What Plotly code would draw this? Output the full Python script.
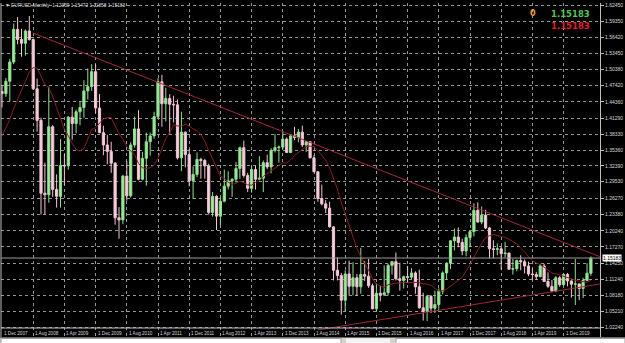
import plotly.graph_objects as go
import pandas as pd

# ---------------- data (EURUSD monthly) ----------------
months = [p.strftime("%b %Y") for p in pd.period_range("2007-12", "2020-07", freq="M")]

opens = [1.4630,
 1.4590,1.4820,1.5180,1.5790,1.5600,1.5530,1.5760,1.5600,1.4680,1.4090,1.2730,1.2700,
 1.3970,1.2800,1.2670,1.3250,1.3240,1.4150,1.4030,1.4250,1.4330,1.4640,1.4720,1.5000,
 1.4320,1.3860,1.3630,1.3510,1.3290,1.2270,1.2230,1.3050,1.2680,1.3630,1.3930,1.2990,
 1.3380,1.3690,1.3800,1.4160,1.4810,1.4400,1.4500,1.4390,1.4380,1.3390,1.3870,1.3450,
 1.2960,1.3080,1.3360,1.3340,1.3240,1.2370,1.2670,1.2300,1.2580,1.2860,1.2960,1.2990,
 1.3190,1.3580,1.3060,1.2820,1.3170,1.2990,1.3010,1.3300,1.3220,1.3530,1.3580,1.3590,
 1.3740,1.3490,1.3800,1.3770,1.3870,1.3630,1.3690,1.3390,1.3130,1.2630,1.2530,1.2450,
 1.2100,1.1290,1.1190,1.0730,1.1220,1.0990,1.1150,1.0980,1.1210,1.1180,1.1000,1.0570,
 1.0860,1.0830,1.0870,1.1380,1.1450,1.1130,1.1100,1.1170,1.1160,1.1240,1.0980,1.0590,
 1.0520,1.0800,1.0580,1.0650,1.0900,1.1240,1.1420,1.1840,1.1910,1.1810,1.1650,1.1900,
 1.2010,1.2410,1.2190,1.2320,1.2080,1.1690,1.1680,1.1690,1.1600,1.1610,1.1310,1.1320,
 1.1470,1.1450,1.1370,1.1220,1.1210,1.1170,1.1370,1.1080,1.0990,1.0900,1.1150,1.1020,
 1.1210,1.1090,1.1030,1.1035,1.0950,1.1100,1.12339]
highs = [1.4750,
 1.4880,1.5240,1.5900,1.6020,1.5800,1.5790,1.6040,1.5620,1.4870,1.4140,1.3300,1.4720,
 1.4000,1.3080,1.3740,1.3460,1.4170,1.4340,1.4290,1.4440,1.4840,1.5060,1.5140,1.5140,
 1.4580,1.3990,1.3820,1.3690,1.3310,1.2470,1.3070,1.3330,1.3680,1.4160,1.4280,1.3500,
 1.3860,1.3860,1.4250,1.4880,1.4940,1.4700,1.4580,1.4550,1.4480,1.4250,1.3880,1.3550,
 1.3230,1.3490,1.3390,1.3370,1.3280,1.2750,1.2690,1.2640,1.3170,1.3140,1.3010,1.3310,
 1.3600,1.3710,1.3110,1.3240,1.3240,1.3420,1.3340,1.3450,1.3570,1.3830,1.3620,1.3890,
 1.3770,1.3820,1.3970,1.3930,1.3990,1.3700,1.3700,1.3440,1.3140,1.2890,1.2600,1.2570,
 1.2110,1.1530,1.1240,1.1290,1.1470,1.1440,1.1220,1.1710,1.1460,1.1500,1.1040,1.1050,
 1.1000,1.1380,1.1410,1.1460,1.1620,1.1430,1.1190,1.1370,1.1330,1.1270,1.1300,1.0870,
 1.0830,1.0830,1.0910,1.0950,1.1270,1.1440,1.1850,1.2070,1.2090,1.1880,1.1960,1.2030,
 1.2540,1.2560,1.2480,1.2420,1.2100,1.1850,1.1790,1.1730,1.1820,1.1620,1.1500,1.1490,
 1.1570,1.1490,1.1450,1.1320,1.1260,1.1410,1.1410,1.1250,1.1110,1.1180,1.1180,1.1240,
 1.1240,1.1100,1.1500,1.1040,1.1150,1.1420,1.15472]
lows = [1.4330,
 1.4530,1.4440,1.5140,1.5510,1.5280,1.5300,1.5580,1.4660,1.3880,1.2330,1.2330,1.2550,
 1.2660,1.2460,1.2460,1.2880,1.3170,1.3730,1.3850,1.4000,1.4140,1.4480,1.4640,1.4220,
 1.3850,1.3440,1.3270,1.3110,1.2140,1.1880,1.2150,1.2590,1.2650,1.3580,1.2970,1.2970,
 1.2870,1.3430,1.3750,1.4120,1.3970,1.4070,1.3840,1.4050,1.3360,1.3140,1.3210,1.2860,
 1.2620,1.3030,1.3000,1.3000,1.2330,1.2290,1.2040,1.2130,1.2560,1.2800,1.2660,1.2930,
 1.3000,1.3020,1.2750,1.2740,1.2800,1.2990,1.2750,1.3180,1.3100,1.3490,1.3300,1.3550,
 1.3480,1.3480,1.3720,1.3680,1.3590,1.3500,1.3380,1.3130,1.2570,1.2500,1.2360,1.2090,
 1.1100,1.1100,1.0460,1.0520,1.0820,1.0820,1.0810,1.0850,1.1090,1.0960,1.0560,1.0520,
 1.0710,1.0810,1.0820,1.1210,1.1100,1.0910,1.0950,1.1050,1.1120,1.0850,1.0570,1.0350,
 1.0340,1.0490,1.0490,1.0570,1.0840,1.1120,1.1310,1.1660,1.1720,1.1570,1.1550,1.1720,
 1.1920,1.2180,1.2150,1.2060,1.1510,1.1510,1.1570,1.1300,1.1530,1.1300,1.1210,1.1270,
 1.1290,1.1230,1.1180,1.1110,1.1110,1.1160,1.1070,1.0960,1.0880,1.0880,1.0980,1.1000,
 1.0990,1.0780,1.0640,1.0730,1.0770,1.1090,1.11858]
closes = [1.4590,
 1.4820,1.5180,1.5790,1.5600,1.5530,1.5760,1.5600,1.4680,1.4090,1.2730,1.2700,1.3970,
 1.2800,1.2670,1.3250,1.3240,1.4150,1.4030,1.4250,1.4330,1.4640,1.4720,1.5000,1.4320,
 1.3860,1.3630,1.3510,1.3290,1.2270,1.2230,1.3050,1.2680,1.3630,1.3930,1.2990,1.3380,
 1.3690,1.3800,1.4160,1.4810,1.4400,1.4500,1.4390,1.4380,1.3390,1.3870,1.3450,1.2960,
 1.3080,1.3360,1.3340,1.3240,1.2370,1.2670,1.2300,1.2580,1.2860,1.2960,1.2990,1.3190,
 1.3580,1.3060,1.2820,1.3170,1.2990,1.3010,1.3300,1.3220,1.3530,1.3580,1.3590,1.3740,
 1.3490,1.3800,1.3770,1.3870,1.3630,1.3690,1.3390,1.3130,1.2630,1.2530,1.2450,1.2100,
 1.1290,1.1190,1.0730,1.1220,1.0990,1.1150,1.0980,1.1210,1.1180,1.1000,1.0570,1.0860,
 1.0830,1.0870,1.1380,1.1450,1.1130,1.1100,1.1170,1.1160,1.1240,1.0980,1.0590,1.0520,
 1.0800,1.0580,1.0650,1.0900,1.1240,1.1420,1.1840,1.1910,1.1810,1.1650,1.1900,1.2010,
 1.2410,1.2190,1.2320,1.2080,1.1690,1.1680,1.1690,1.1600,1.1610,1.1310,1.1320,1.1470,
 1.1450,1.1370,1.1220,1.1210,1.1170,1.1370,1.1080,1.0990,1.0900,1.1150,1.1020,1.1210,
 1.1090,1.1030,1.1035,1.0950,1.1100,1.1234,1.15183]

# moving average line (red) as seen on the chart
ma_line = [1.3797,
 1.3945,1.4108,1.4310,1.4473,1.4646,1.4831,1.4991,1.5077,1.5063,1.4917,1.4756,1.4704,
 1.4536,1.4327,1.4115,1.3918,1.3803,1.3659,1.3547,1.3518,1.3563,1.3729,1.3921,1.3950,
 1.4038,1.4118,1.4140,1.4144,1.3988,1.3838,1.3738,1.3600,1.3516,1.3450,1.3283,1.3204,
 1.3190,1.3204,1.3258,1.3385,1.3563,1.3752,1.3863,1.4006,1.3986,1.3981,1.4019,1.3984,
 1.3933,1.3897,1.3828,1.3698,1.3528,1.3376,1.3202,1.3051,1.3007,1.2931,1.2893,1.2912,
 1.2953,1.2928,1.2885,1.2879,1.2931,1.2959,1.3043,1.3096,1.3152,1.3203,1.3253,1.3299,
 1.3292,1.3353,1.3433,1.3491,1.3544,1.3601,1.3608,1.3601,1.3526,1.3438,1.3343,1.3207,
 1.3023,1.2806,1.2553,1.2332,1.2112,1.1900,1.1699,1.1539,1.1418,1.1291,1.1134,1.1031,
 1.0993,1.0966,1.1020,1.1039,1.1051,1.1047,1.1063,1.1058,1.1063,1.1062,1.1063,1.1035,
 1.1033,1.1008,1.0948,1.0902,1.0911,1.0938,1.0993,1.1056,1.1103,1.1159,1.1268,1.1393,
 1.1527,1.1661,1.1800,1.1898,1.1936,1.1958,1.1946,1.1920,1.1903,1.1874,1.1826,1.1781,
 1.1701,1.1633,1.1541,1.1468,1.1425,1.1398,1.1348,1.1297,1.1238,1.1225,1.1200,1.1178,
 1.1148,1.1120,1.1104,1.1083,1.1077,1.1065,1.1102]

# trend lines (bar index, price)
resist_x = [8.0, 153.3]
resist_y = [1.5720, 1.1543]
support_x = [81.0, 153.3]
support_y = [1.0174, 1.1033]

x_labels = ["1 Dec 2007", "1 Aug 2008", "1 Apr 2009", "1 Dec 2009", "1 Aug 2010",
            "1 Apr 2011", "1 Dec 2011", "1 Aug 2012", "1 Apr 2013", "1 Dec 2013",
            "1 Aug 2014", "1 Apr 2015", "1 Dec 2015", "1 Aug 2016", "1 Apr 2017",
            "1 Dec 2017", "1 Aug 2018", "1 Apr 2019", "1 Dec 2019"]
y_labels = ["1.62450", "1.59350", "1.56420", "1.53450", "1.50380", "1.47420",
            "1.44360", "1.41290", "1.38330", "1.35360", "1.32390", "1.29530",
            "1.26270", "1.23380", "1.20240", "1.17270", "1.14250", "1.11240",
            "1.08180", "1.05210", "1.02240"]

# ---------------- figure ----------------
xs = list(range(len(months)))
x_tickvals = [months.index(lbl[2:]) for lbl in x_labels]
y_tickvals = [float(v) for v in y_labels]

W, H = 625, 343
ML, MR, MT, MB = 1, 25, 3, 6
PW, PH = W - ML - MR, H - MT - MB


def px_x(px):
    return (px - ML) / PW


def px_y(py):
    return (H - MB - py) / PH


fig = go.Figure()

fig.add_trace(go.Scatter(x=xs, y=ma_line, mode="lines",
                         line=dict(color="#8a1e22", width=1), hoverinfo="skip"))
fig.add_trace(go.Scatter(x=resist_x, y=resist_y, mode="lines",
                         line=dict(color="#a0283a", width=1), hoverinfo="skip"))
fig.add_trace(go.Scatter(x=support_x, y=support_y, mode="lines",
                         line=dict(color="#a0283a", width=1), hoverinfo="skip"))

fig.add_trace(go.Candlestick(
    x=xs, open=opens, high=highs, low=lows, close=closes,
    increasing=dict(line=dict(color="#8fe08f", width=1), fillcolor="#9ceb9c"),
    decreasing=dict(line=dict(color="#f2c4d2", width=1), fillcolor="#f6cfdb"),
    whiskerwidth=0))

shapes = [
    # time-scale strip (hides grid there)
    dict(type="rect", xref="paper", yref="paper", x0=0, x1=1, y0=0, y1=px_y(328.5),
         fillcolor="black", line=dict(width=0), layer="between"),
    # bottom border of chart area
    dict(type="line", xref="paper", yref="paper", x0=0, x1=1, y0=px_y(328), y1=px_y(328),
         line=dict(color="#bdbdbd", width=1)),
    # left border
    dict(type="line", xref="paper", yref="paper", x0=0, x1=0, y0=0, y1=1,
         line=dict(color="#bdbdbd", width=1)),
    # current price line
    dict(type="line", xref="paper", yref="y", x0=0, x1=1, y0=closes[-1], y1=closes[-1],
         line=dict(color="#9a9a9a", width=1)),
    # bottom tab strip
    dict(type="rect", xref="paper", yref="paper", x0=px_x(0), x1=px_x(625),
         y0=px_y(343.5), y1=px_y(337.5), fillcolor="#d6d3cc", line=dict(width=0)),
    dict(type="rect", xref="paper", yref="paper", x0=px_x(1), x1=px_x(341),
         y0=px_y(343.5), y1=px_y(338.5), fillcolor="#ffffff", line=dict(color="#a0a0a0", width=1)),
    dict(type="rect", xref="paper", yref="paper", x0=px_x(346), x1=px_x(390),
         y0=px_y(343.5), y1=px_y(338.5), fillcolor="#f4f4f4", line=dict(width=0)),
    dict(type="rect", xref="paper", yref="paper", x0=px_x(396), x1=px_x(625),
         y0=px_y(343.5), y1=px_y(338.5), fillcolor="#ffffff", line=dict(color="#a0a0a0", width=1)),
]

ann = []
for lbl, tv in zip(x_labels, x_tickvals):
    ann.append(dict(x=tv, xref="x", y=px_y(333), yref="paper", text=lbl,
                    showarrow=False, xanchor="left", yanchor="middle", xshift=0,
                    font=dict(family="Liberation Sans", size=4.6, color="#d8d8d8")))

ann.append(dict(x=px_x(3), y=px_y(5.5), xref="paper", yref="paper",
                text="▼ EURUSD,Monthly  %.5f %.5f %.5f %.5f" % (opens[-1], highs[-1], lows[-1], closes[-1]),
                showarrow=False, xanchor="left", yanchor="middle",
                font=dict(family="Liberation Sans", size=4.8, color="#d8d8d8")))
ann.append(dict(x=px_x(528), y=px_y(13.5), xref="paper", yref="paper", text="<b>0</b>",
                showarrow=False, xanchor="left", yanchor="middle",
                font=dict(family="DejaVu Sans", size=8, color="#f0a030")))
ann.append(dict(x=px_x(592), y=px_y(13.5), xref="paper", yref="paper",
                text="<b>%.5f</b>" % closes[-1],
                showarrow=False, xanchor="right", yanchor="middle",
                font=dict(family="DejaVu Sans", size=8.5, color="#55c455")))
ann.append(dict(x=px_x(592), y=px_y(26), xref="paper", yref="paper",
                text="<b>%.5f</b>" % closes[-1],
                showarrow=False, xanchor="right", yanchor="middle",
                font=dict(family="DejaVu Sans", size=8.5, color="#e0202c")))
ann.append(dict(x=1, xref="paper", y=closes[-1], yref="y", text="%.5f" % closes[-1],
                showarrow=False, xanchor="left", yanchor="middle", xshift=2,
                bgcolor="#ffffff", borderpad=0,
                font=dict(family="Liberation Sans", size=5, color="#000000")))

fig.update_layout(
    width=W, height=H,
    margin=dict(l=ML, r=MR, t=MT, b=MB, pad=0),
    paper_bgcolor="black", plot_bgcolor="black",
    showlegend=False, boxgap=0.2,
    shapes=shapes, annotations=ann,
    xaxis=dict(range=[(1 - 2) / 3.9, (600 - 2) / 3.9], tickvals=x_tickvals,
               showticklabels=False, ticks="", showgrid=True,
               gridcolor="#959595", griddash="dot", gridwidth=1,
               zeroline=False, showline=False, rangeslider=dict(visible=False),
               fixedrange=True),
    yaxis=dict(side="right", range=[1.6245 - 332 / 535.3, 1.6245 + 2 / 535.3],
               tickvals=y_tickvals, ticktext=y_labels,
               ticks="outside", ticklen=3, tickcolor="#bdbdbd", tickwidth=1,
               tickfont=dict(family="Liberation Sans", size=5, color="#d8d8d8"),
               showgrid=True, gridcolor="#959595", griddash="dot", gridwidth=1,
               zeroline=False, showline=True, linecolor="#bdbdbd", linewidth=1,
               mirror=False, fixedrange=True),
)

fig.write_html("out.html")
